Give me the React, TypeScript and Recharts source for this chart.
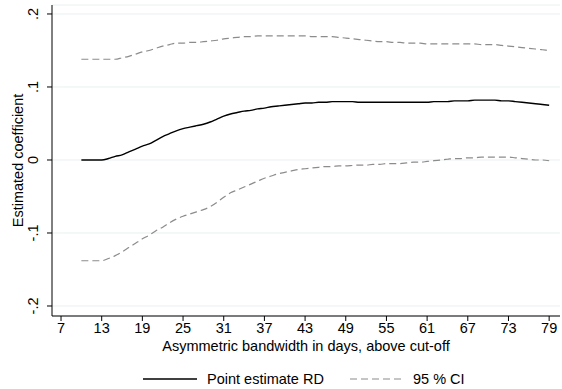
import React from 'react';
import { LineChart, Line, XAxis, YAxis, CartesianGrid, Legend } from 'recharts';

const days = [
  10, 11, 12, 13, 14, 15, 16, 17, 18, 19, 20, 21, 22, 23, 24, 25, 26, 27, 28, 29,
  30, 31, 32, 33, 34, 35, 36, 37, 38, 39, 40, 41, 42, 43, 44, 45, 46, 47, 48, 49,
  50, 51, 52, 53, 54, 55, 56, 57, 58, 59, 60, 61, 62, 63, 64, 65, 66, 67, 68, 69,
  70, 71, 72, 73, 74, 75, 76, 77, 78, 79,
];

const pointEstimate = [
  0.0, 0.0, 0.0, 0.0, 0.002, 0.005, 0.007, 0.011, 0.015, 0.019,
  0.022, 0.027, 0.032, 0.036, 0.04, 0.043, 0.045, 0.047, 0.049, 0.052,
  0.056, 0.06, 0.063, 0.065, 0.067, 0.068, 0.07, 0.071, 0.073, 0.074,
  0.075, 0.076, 0.077, 0.078, 0.078, 0.079, 0.079, 0.08, 0.08, 0.08,
  0.08, 0.079, 0.079, 0.079, 0.079, 0.079, 0.079, 0.079, 0.079, 0.079,
  0.079, 0.079, 0.08, 0.08, 0.08, 0.081, 0.081, 0.081, 0.082, 0.082,
  0.082, 0.082, 0.081, 0.081, 0.08, 0.079, 0.078, 0.077, 0.076, 0.075,
];

const upperCI = [
  0.138, 0.138, 0.138, 0.138, 0.138, 0.138, 0.14, 0.142, 0.145, 0.148,
  0.15, 0.153, 0.156, 0.158, 0.16, 0.16, 0.161, 0.161, 0.162, 0.163,
  0.164, 0.166, 0.167, 0.168, 0.169, 0.169, 0.17, 0.17, 0.17, 0.17,
  0.17, 0.17, 0.17, 0.17, 0.169, 0.169, 0.169, 0.169, 0.168, 0.167,
  0.166, 0.165, 0.164, 0.163, 0.162, 0.162, 0.161, 0.161, 0.16, 0.16,
  0.16, 0.159, 0.159, 0.159, 0.159, 0.159, 0.159, 0.159, 0.159, 0.158,
  0.158, 0.158, 0.157, 0.156, 0.155, 0.154, 0.153, 0.152, 0.151, 0.15,
];

const lowerCI = [
  -0.138, -0.138, -0.138, -0.138, -0.135, -0.131, -0.126, -0.12, -0.114, -0.108,
  -0.103, -0.097, -0.092, -0.086, -0.081, -0.077, -0.074, -0.071, -0.068, -0.064,
  -0.058, -0.051, -0.045, -0.041, -0.037, -0.033, -0.029, -0.025, -0.022, -0.019,
  -0.017, -0.015, -0.013, -0.012, -0.011, -0.01, -0.009, -0.009, -0.008, -0.008,
  -0.0075, -0.007, -0.007, -0.006, -0.006, -0.005, -0.005, -0.005, -0.004, -0.003,
  -0.003, -0.002, -0.001, 0.0, 0.001, 0.002, 0.002, 0.003, 0.003, 0.004,
  0.004, 0.004, 0.004, 0.004, 0.003, 0.002, 0.001, 0.0, 0.0, -0.001,
];

const xTicks = [7, 13, 19, 25, 31, 37, 43, 49, 55, 61, 67, 73, 79];
const yTicks = [-0.2, -0.1, 0, 0.1, 0.2];
const yTickLabels = ['-.2', '-.1', '0', '.1', '.2'];

const xTitle = 'Asymmetric bandwidth in days, above cut-off';
const yTitle = 'Estimated coefficient';
const legendPoint = 'Point estimate RD';
const legendCI = '95 % CI';

const FONT = '"Liberation Sans", Arial, Helvetica, sans-serif';
const FS = 14.5;
const CI_COLOR = '#8c8c8c';

const data = days.map((d, i) => ({
  day: d,
  est: pointEstimate[i],
  hi: upperCI[i],
  lo: lowerCI[i],
}));

const YTick = (props: any) => {
  const { x, y, payload } = props;
  const idx = yTicks.findIndex((t) => Math.abs(t - payload.value) < 1e-9);
  return (
    <text
      transform={`translate(${x - 7}, ${y}) rotate(-90)`}
      textAnchor="middle"
      fontSize={FS}
      fill="#000"
      fontFamily={FONT}
    >
      {idx >= 0 ? yTickLabels[idx] : ''}
    </text>
  );
};

const YLabel = (props: any) => {
  const vb = props.viewBox || { x: 0, y: 5, width: 52, height: 311 };
  const cy = vb.y + vb.height / 2;
  return (
    <text
      transform={`translate(23, ${cy}) rotate(-90)`}
      textAnchor="middle"
      fontSize={FS}
      fill="#000"
      fontFamily={FONT}
    >
      {yTitle}
    </text>
  );
};

const LegendContent = () => (
  <svg width={562} height={23} style={{ display: 'block' }}>
    <line x1={143} x2={197} y1={13} y2={13} stroke="#000" strokeWidth={1.4} />
    <text x={207} y={17.5} fontSize={FS} fill="#000" fontFamily={FONT}>
      {legendPoint}
    </text>
    <line
      x1={350}
      x2={405}
      y1={13}
      y2={13}
      stroke={CI_COLOR}
      strokeWidth={1.2}
      strokeDasharray="7 4"
    />
    <text x={413} y={17.5} fontSize={FS} fill="#000" fontFamily={FONT}>
      {legendCI}
    </text>
  </svg>
);

export default function App() {
  return (
    <div style={{ position: 'absolute', left: 0, top: 0, background: '#fff' }}>
      <LineChart
        width={562}
        height={389}
        data={data}
        margin={{ top: 5, right: 2, bottom: 0, left: 0 }}
        style={{ fontFamily: FONT }}
      >
        <CartesianGrid horizontal vertical={false} stroke="#e9f0f1" strokeWidth={1} />
        <XAxis
          dataKey="day"
          type="number"
          domain={[5.67, 80.6]}
          ticks={xTicks}
          allowDataOverflow
          height={50}
          tickSize={5}
          tick={{ fontSize: FS, fill: '#000', fontFamily: FONT }}
          tickLine={{ stroke: '#000' }}
          axisLine={{ stroke: '#000' }}
          interval={0}
          label={{
            value: xTitle,
            position: 'insideBottom',
            offset: 15,
            fontSize: FS,
            fill: '#000',
            fontFamily: FONT,
          }}
        />
        <YAxis
          type="number"
          domain={[-0.2137, 0.2123]}
          ticks={yTicks}
          allowDataOverflow
          width={52}
          tickSize={5}
          tick={<YTick />}
          tickLine={{ stroke: '#000' }}
          axisLine={{ stroke: '#000' }}
          interval={0}
          label={<YLabel />}
        />
        <Legend
          verticalAlign="bottom"
          height={23}
          content={<LegendContent />}
          wrapperStyle={{ left: 0, bottom: 0, width: 562, height: 23 }}
        />
        <Line
          type="monotone"
          dataKey="hi"
          stroke={CI_COLOR}
          strokeWidth={1.2}
          strokeDasharray="7 4"
          dot={false}
          activeDot={false}
          isAnimationActive={false}
        />
        <Line
          type="monotone"
          dataKey="lo"
          stroke={CI_COLOR}
          strokeWidth={1.2}
          strokeDasharray="7 4"
          dot={false}
          activeDot={false}
          isAnimationActive={false}
        />
        <Line
          type="monotone"
          dataKey="est"
          stroke="#000"
          strokeWidth={1.4}
          dot={false}
          activeDot={false}
          isAnimationActive={false}
        />
      </LineChart>
    </div>
  );
}
